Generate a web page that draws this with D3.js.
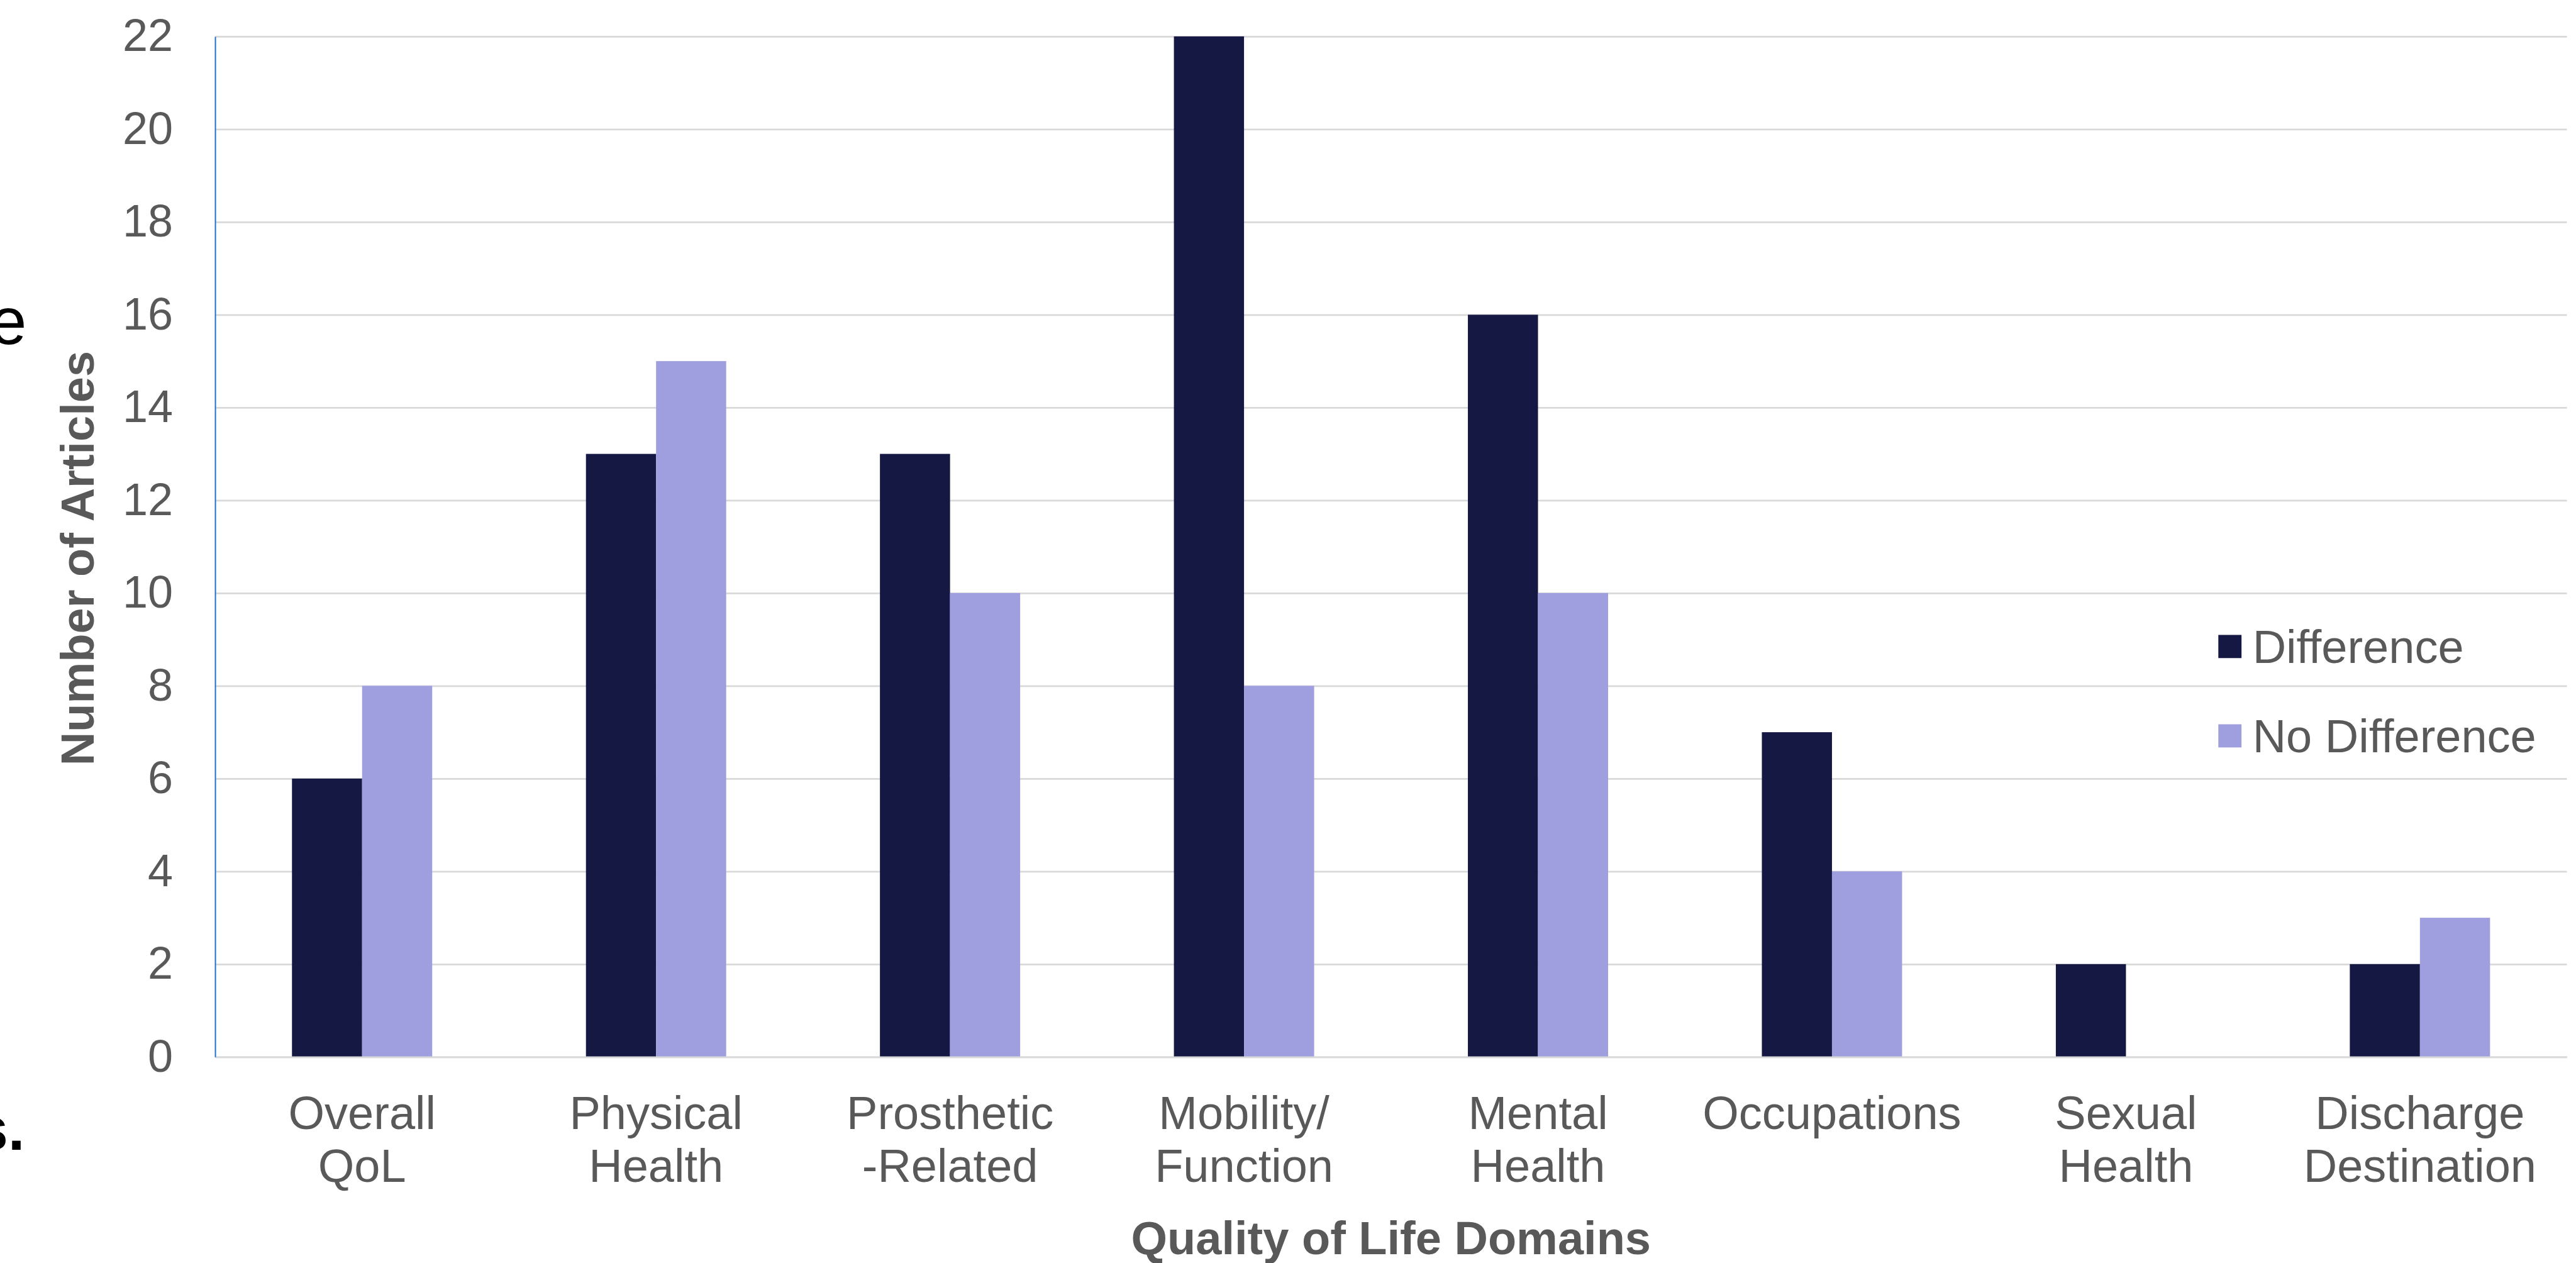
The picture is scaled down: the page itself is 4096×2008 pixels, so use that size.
<!DOCTYPE html>
<html>
<head>
<meta charset="utf-8">
<script src="https://cdn.jsdelivr.net/npm/d3@7"></script>
<style>
  html, body { margin: 0; padding: 0; background: #ffffff; overflow: hidden; }
  svg { display: block; }
  text { font-family: "Liberation Sans", Arial, sans-serif; }
</style>
</head>
<body>
<svg id="chart" width="4096" height="2008"></svg>
<script>
// ---- data ----
const categories = [
  ["Overall", "QoL"],
  ["Physical", "Health"],
  ["Prosthetic", "-Related"],
  ["Mobility/", "Function"],
  ["Mental", "Health"],
  ["Occupations"],
  ["Sexual", "Health"],
  ["Discharge", "Destination"]
];
const seriesNames = ["Difference", "No Difference"];
const differenceValues = [6, 13, 13, 22, 16, 7, 2, 2];
const noDifferenceValues = [8, 15, 10, 8, 10, 4, 0, 3];
const yTicks = [0, 2, 4, 6, 8, 10, 12, 14, 16, 18, 20, 22];
const xTitle = "Quality of Life Domains";
const yTitle = "Number of Articles";

// ---- layout ----
const S = 0.877;
const plotLeft = 390 * S, plotRight = 4654 * S;
const plotTop = 66 * S, plotBottom = 1916 * S;
const colors = ["#161844", "#9f9fdf"];
const textColor = "#595959";
const fs = 74;

const svg = d3.select("#chart");

const keys = categories.map((c, i) => i);
const x = d3.scaleBand().domain(keys).range([plotLeft, plotRight])
  .paddingInner(0.523).paddingOuter(0.2615);
const xs = d3.scaleBand().domain([0, 1]).range([0, x.bandwidth()]).padding(0);
const y = d3.scaleLinear().domain([0, 22]).range([plotBottom, plotTop]);

// gridlines
const grid = svg.append("g")
  .attr("transform", `translate(${plotLeft},0)`)
  .call(d3.axisLeft(y).tickValues(yTicks).tickSize(-(plotRight - plotLeft)).tickFormat(""));
grid.select(".domain").remove();
grid.selectAll(".tick line").attr("stroke", "#d9d9d9").attr("stroke-width", 2.6);

// bars
const series = [differenceValues, noDifferenceValues];
const rows = keys.map(i => ({ i, vals: series.map(s => s[i]) }));
const groups = svg.append("g").selectAll("g").data(rows).join("g")
  .attr("transform", d => `translate(${x(d.i)},0)`);
groups.selectAll("rect").data(d => d.vals.map((v, k) => ({ v, k }))).join("rect")
  .attr("x", d => xs(d.k))
  .attr("width", xs.bandwidth())
  .attr("y", d => y(d.v))
  .attr("height", d => y(0) - y(d.v))
  .attr("fill", d => colors[d.k]);

// x axis baseline
const xAxis = svg.append("g")
  .attr("transform", `translate(0,${plotBottom})`)
  .call(d3.axisBottom(x).tickSize(0).tickFormat(""));
xAxis.select(".domain").attr("stroke", "#d9d9d9").attr("stroke-width", 2.6);

// y axis line (blue) and tick labels
const yAxis = svg.append("g")
  .attr("transform", `translate(${plotLeft},0)`)
  .call(d3.axisLeft(y).tickValues(yTicks).tickSize(0).tickPadding(plotLeft - 275));
yAxis.select(".domain").attr("stroke", "#1f6fd2").attr("stroke-width", 2);
yAxis.selectAll(".tick text")
  .attr("fill", textColor)
  .style("font-size", "72px")
  .style("font-family", "'Liberation Sans', Arial, sans-serif");

// category labels
const lineH = 84;
const line1 = 2047 * S;
xAxis.selectAll(".tick").each(function(d) {
  const t = d3.select(this).append("text")
    .attr("text-anchor", "middle")
    .attr("fill", textColor)
    .style("font-size", fs + "px");
  categories[d].forEach((ln, j) => {
    t.append("tspan").attr("x", 0).attr("y", line1 - plotBottom + j * lineH).text(ln);
  });
});

// axis titles
svg.append("text")
  .attr("x", (plotLeft + plotRight) / 2)
  .attr("y", 2274 * S)
  .attr("text-anchor", "middle")
  .attr("fill", textColor)
  .attr("font-weight", "bold")
  .style("font-size", fs + "px")
  .text(xTitle);

svg.append("text")
  .attr("transform", `translate(${170 * S},${1012 * S}) rotate(-90)`)
  .attr("text-anchor", "middle")
  .attr("fill", textColor)
  .attr("font-weight", "bold")
  .style("font-size", fs + "px")
  .text(yTitle);

// legend
const sq = 42 * S;
const legY = [1172 * S, 1334 * S];
const leg = svg.append("g").selectAll("g").data(seriesNames).join("g")
  .attr("transform", (d, i) => `translate(${4022 * S},${legY[i]})`);
leg.append("rect")
  .attr("x", 0).attr("y", -sq / 2).attr("width", sq).attr("height", sq)
  .attr("fill", (d, i) => colors[i]);
leg.append("text")
  .attr("x", (4084 - 4022) * S)
  .attr("y", 0)
  .attr("dy", "0.35em")
  .attr("fill", textColor)
  .style("font-size", fs + "px")
  .text(d => d);

// cut-off fragments of surrounding text at the left edge
svg.append("text")
  .attr("x", -16).attr("y", 547)
  .attr("fill", "#000")
  .style("font-size", "105px")
  .text("e");
svg.append("text")
  .attr("x", 39.5).attr("y", 1828)
  .attr("text-anchor", "end")
  .attr("fill", "#000")
  .attr("font-weight", "bold")
  .style("font-size", "96px")
  .text("s.");
</script>
</body>
</html>
